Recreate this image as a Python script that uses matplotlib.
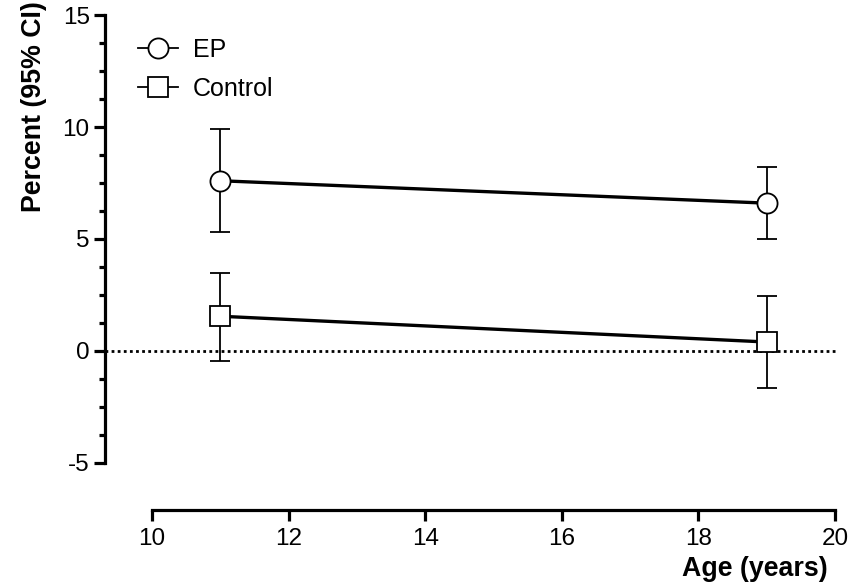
import matplotlib.pyplot as plt
from matplotlib.ticker import FixedLocator

plt.rcParams['font.family'] = ['Liberation Sans', 'DejaVu Sans']
plt.rcParams['axes.unicode_minus'] = False

# data
age = [11, 19]
ep_mean = [7.6, 6.6]
ep_low = [5.3, 5.0]
ep_high = [9.9, 8.2]
ctrl_mean = [1.55, 0.4]
ctrl_low = [-0.45, -1.65]
ctrl_high = [3.5, 2.45]

fig = plt.figure(figsize=(8.67, 5.87), dpi=100)
ax = fig.add_axes([0.1211, 0.132, 0.8431, 0.8424])

def draw(mean, low, high, marker, label):
    err = [[m - l for m, l in zip(mean, low)], [h - m for m, h in zip(mean, high)]]
    ax.errorbar(age, mean, yerr=err, fmt='none', ecolor='black', elinewidth=1.3,
                capsize=7.5, capthick=1.3, zorder=2)
    ax.plot(age, mean, color='black', lw=2.4, marker=marker, markersize=14.5,
            markerfacecolor='white', markeredgecolor='black', markeredgewidth=1.3,
            label=label, zorder=3)

draw(ep_mean, ep_low, ep_high, 'o', 'EP')
draw(ctrl_mean, ctrl_low, ctrl_high, 's', 'Control')

ax.axhline(0, color='black', lw=2.0, ls=(0, (1, 1.2)), zorder=1)

ax.set_xlim(9.31, 20.015)
ax.set_ylim(-7.08, 15)
ax.spines['top'].set_visible(False)
ax.spines['right'].set_visible(False)
ax.spines['left'].set_bounds(-5, 15)
ax.spines['bottom'].set_bounds(10, 20)
ax.spines['left'].set_linewidth(2.3)
ax.spines['bottom'].set_linewidth(2.3)

ax.set_xticks([10, 12, 14, 16, 18, 20])
ax.set_yticks([-5, 0, 5, 10, 15])
ax.yaxis.set_minor_locator(FixedLocator([-5 + 1.25 * i for i in range(17)]))
ax.tick_params(which='major', length=8, width=2.3, labelsize=17.5, pad=3)
ax.tick_params(axis='x', which='major', pad=5)
ax.tick_params(which='minor', length=4, width=2.3)

ax.set_xlabel('Age (years)', fontsize=19.3, fontweight='bold', ha='right')
ax.xaxis.set_label_coords(0.989, -0.094)
ax.set_ylabel('Percent (95% CI)', fontsize=19.3, fontweight='bold')
ax.yaxis.set_label_coords(-0.079, 0.814)

leg = ax.legend(loc='upper left', bbox_to_anchor=(0.0137, 1.0), frameon=False,
                fontsize=18, handlelength=1.6, handletextpad=0.6, labelspacing=0.6)
for h in leg.legend_handles:
    h.set_linewidth(1.3)

fig.savefig('out.png', dpi=100)
